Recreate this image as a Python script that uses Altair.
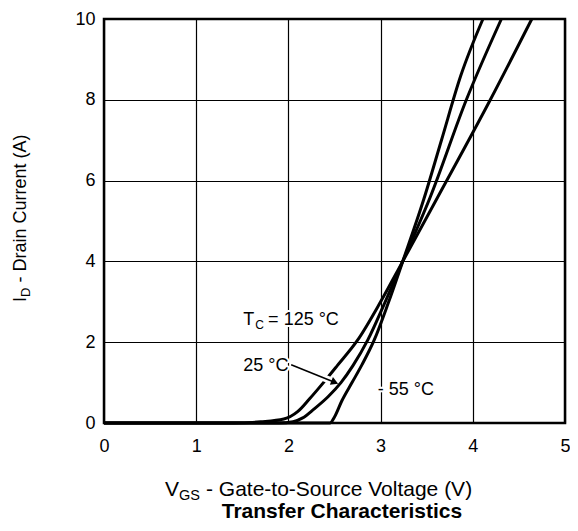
import altair as alt
import pandas as pd

FONT = "Liberation Sans"

# ---- curve data ----
series_names = ["-55 °C", "25 °C", "125 °C"]

vgs_m55 = [0.0, 2.45, 2.50, 2.58, 2.69, 2.80, 2.93, 3.08, 3.24, 3.47, 3.66, 3.87, 4.11]
id_m55 = [0.0, 0.0, 0.15, 0.55, 1.0, 1.45, 2.05, 2.95, 4.0, 5.55, 7.0, 8.6, 10.0]

vgs_25 = [0.0, 1.9, 2.05, 2.15, 2.28, 2.43, 2.57, 2.70, 2.86, 3.05, 3.24, 3.54, 3.93, 4.31]
id_25 = [0.0, 0.0, 0.03, 0.12, 0.35, 0.65, 1.0, 1.42, 2.05, 3.0, 4.0, 5.6, 8.0, 10.0]

vgs_125 = [0.0, 1.4, 1.7, 1.95, 2.1, 2.23, 2.38, 2.53, 2.75, 3.0, 3.24, 3.61, 4.19, 4.64]
id_125 = [0.0, 0.0, 0.03, 0.1, 0.28, 0.6, 1.0, 1.42, 2.05, 3.0, 4.0, 5.55, 8.0, 10.0]

x_ticks = [0, 1, 2, 3, 4, 5]
y_ticks = [0, 2, 4, 6, 8, 10]

# annotations (data coordinates)
ann_text = ["T", "C", "= 125 °C", "25 °C", "- 55 °C"]
ann_x = [1.51, 1.64, 1.78, 1.51, 2.97]
ann_y = [2.43, 2.33, 2.43, 1.29, 0.69]
ann_size = [18, 12, 18, 18, 18]

arrow_x = [2.03, 2.50]
arrow_y = [1.44, 1.01]
arrow_halo_x = [2.22, 2.47]
arrow_halo_y = [1.27, 1.04]
arrow_head_x = [2.503]
arrow_head_y = [1.007]

rows = []
for name, xs, ys in zip(series_names, [vgs_m55, vgs_25, vgs_125], [id_m55, id_25, id_125]):
    for i, (xv, yv) in enumerate(zip(xs, ys)):
        rows.append({"series": name, "vgs": xv, "id": yv, "order": i})
df = pd.DataFrame(rows)

xscale = alt.Scale(domain=[0, 5], nice=False, zero=False)
yscale = alt.Scale(domain=[0, 10], nice=False, zero=False)

xaxis = alt.Axis(values=x_ticks, format="d", title=None, grid=True, gridColor="black", gridWidth=1.2,
                 gridOpacity=1, domain=False, ticks=False, tickSize=0, labelFont=FONT,
                 labelFontSize=18, labelColor="black", labelPadding=14, labelFlush=False)
yaxis = alt.Axis(values=y_ticks, format="d", title=None, grid=True, gridColor="black", gridWidth=1.2,
                 gridOpacity=1, domain=False, ticks=False, tickSize=0, labelFont=FONT,
                 labelFontSize=18, labelColor="black", labelPadding=9, labelFlush=False)

lines = alt.Chart(df).mark_line(color="black", strokeWidth=3, interpolate="monotone").encode(
    x=alt.X("vgs:Q", scale=xscale, axis=xaxis),
    y=alt.Y("id:Q", scale=yscale, axis=yaxis),
    detail="series:N",
    order="order:Q",
)

ann_df = pd.DataFrame({"t": ann_text, "x": ann_x, "y": ann_y, "s": ann_size})
ann_halo = alt.Chart(ann_df).mark_text(font=FONT, align="left", baseline="alphabetic",
                                       color="white", stroke="white", strokeWidth=4).encode(
    x=alt.X("x:Q", scale=xscale), y=alt.Y("y:Q", scale=yscale), text="t:N",
    size=alt.Size("s:Q", scale=None))
ann = alt.Chart(ann_df).mark_text(font=FONT, align="left", baseline="alphabetic",
                                  color="black").encode(
    x=alt.X("x:Q", scale=xscale), y=alt.Y("y:Q", scale=yscale), text="t:N",
    size=alt.Size("s:Q", scale=None))

halo = alt.Chart(pd.DataFrame({"x": arrow_halo_x, "y": arrow_halo_y})).mark_line(
    color="white", strokeWidth=7, strokeCap="round").encode(
    x=alt.X("x:Q", scale=xscale), y=alt.Y("y:Q", scale=yscale))
arrow = alt.Chart(pd.DataFrame({"x": arrow_x, "y": arrow_y})).mark_line(
    color="black", strokeWidth=1.6).encode(
    x=alt.X("x:Q", scale=xscale), y=alt.Y("y:Q", scale=yscale))
head = alt.Chart(pd.DataFrame({"x": arrow_head_x, "y": arrow_head_y})).mark_point(
    shape="triangle-right", filled=True, color="black", opacity=1, size=70, angle=21.6).encode(
    x=alt.X("x:Q", scale=xscale), y=alt.Y("y:Q", scale=yscale))


def label(text, x, y, size, angle=0, bold=False, align="left"):
    return alt.Chart(pd.DataFrame({"t": [text]})).mark_text(
        font=FONT, fontSize=size, angle=angle, align=align, baseline="alphabetic",
        fontWeight="bold" if bold else "normal", color="black").encode(
        x=alt.value(x), y=alt.value(y), text="t:N")


titles = [
    label("V", 61, 477, 21),
    label("GS", 75, 481, 14.5),
    label("- Gate-to-Source Voltage (V)", 102, 477, 21),
    label("I", -78, 283, 18, angle=270),
    label("D", -74, 278, 13, angle=270),
    label("- Drain Current (A)", -78, 263.6, 18, angle=270),
    label("Transfer Characteristics", 238, 499, 21, bold=True, align="center"),
]

chart = alt.layer(lines, halo, arrow, head, ann_halo, ann, *titles).properties(
    width=461, height=404,
    autosize=alt.AutoSizeParams(type="none"),
    padding={"left": 96, "top": 11, "right": 5, "bottom": 100},
    background="white",
).configure_view(stroke="black", strokeWidth=2.5)

chart.save("out.html", embed_options={"renderer": "svg", "actions": False})
